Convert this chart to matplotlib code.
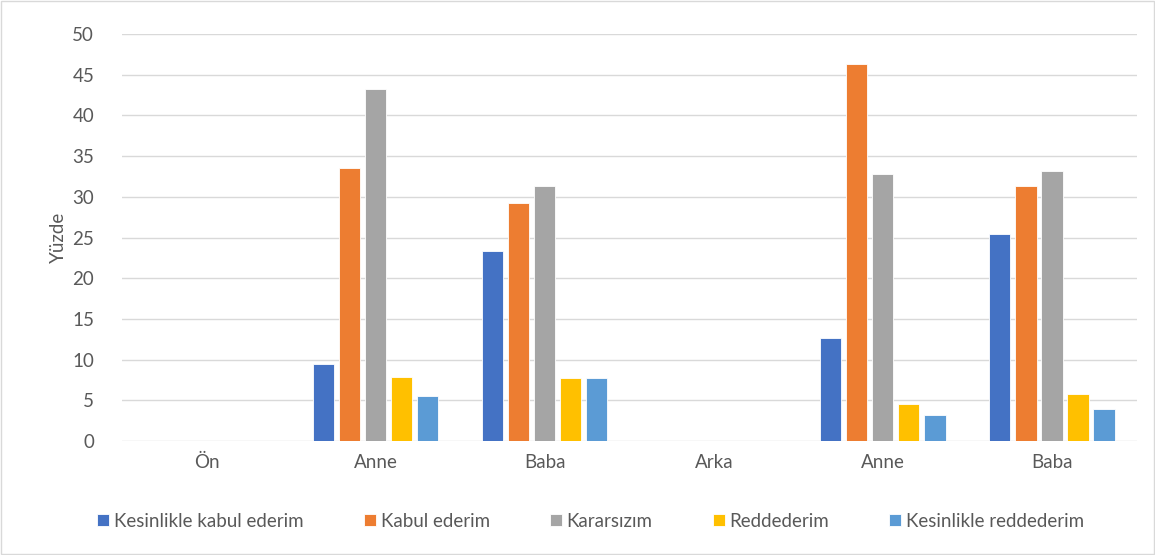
import matplotlib.pyplot as plt
import numpy as np
from matplotlib.patches import Rectangle

plt.rcParams['font.family'] = ['Lato', 'DejaVu Sans']

categories = ["Ön", "Anne", "Baba", "Arka", "Anne", "Baba"]
series_names = ["Kesinlikle kabul ederim", "Kabul ederim", "Kararsızım",
                "Reddederim", "Kesinlikle reddederim"]
kesinlikle_kabul = [0, 9.5, 23.3, 0, 12.6, 25.4]
kabul = [0, 33.5, 29.2, 0, 46.3, 31.3]
kararsiz = [0, 43.2, 31.3, 0, 32.8, 33.2]
reddederim = [0, 7.9, 7.7, 0, 4.6, 5.8]
kesinlikle_red = [0, 5.5, 7.7, 0, 3.2, 3.9]
y_ticks = [0, 5, 10, 15, 20, 25, 30, 35, 40, 45, 50]

series = [kesinlikle_kabul, kabul, kararsiz, reddederim, kesinlikle_red]
colors = ["#4472C4", "#ED7D31", "#A5A5A5", "#FFC000", "#5B9BD5"]

fig = plt.figure(figsize=(11.55, 5.55), dpi=100)
fig.patches.append(Rectangle((0.001, 0.001), 0.998, 0.997, transform=fig.transFigure,
                             fill=False, edgecolor="#D9D9D9", linewidth=1))
ax = fig.add_axes([0.1056, 0.2054, 0.8784, 0.7333])

x = np.arange(len(categories))
step = 0.154
width = 0.125
for i, (vals, c, name) in enumerate(zip(series, colors, series_names)):
    ax.bar(x + (i - 2) * step, vals, width=width, color=c, label=name,
           edgecolor="white", linewidth=0.6, zorder=3)

ax.set_xlim(-0.5, len(categories) - 0.5)
ax.set_ylim(0, 50)
ax.set_yticks(y_ticks)
ax.set_xticks(x)
ax.set_xticklabels(categories)
ax.grid(axis="y", color="#D9D9D9", linewidth=1, zorder=0)
for s in ax.spines.values():
    s.set_visible(False)
ax.tick_params(axis="both", length=0, colors="#595959", labelsize=13.5)
ax.tick_params(axis="x", pad=9)
ax.tick_params(axis="y", pad=20)
ax.set_ylabel("Yüzde", color="#595959", fontsize=13.5, labelpad=4)

ax.legend(loc="upper center", bbox_to_anchor=(0.462, -0.135), ncol=5, frameon=False,
          fontsize=13.5, labelcolor="#595959", handlelength=0.65, handleheight=0.65,
          handletextpad=0.25, columnspacing=3.2)

fig.savefig("out.png", dpi=100)
